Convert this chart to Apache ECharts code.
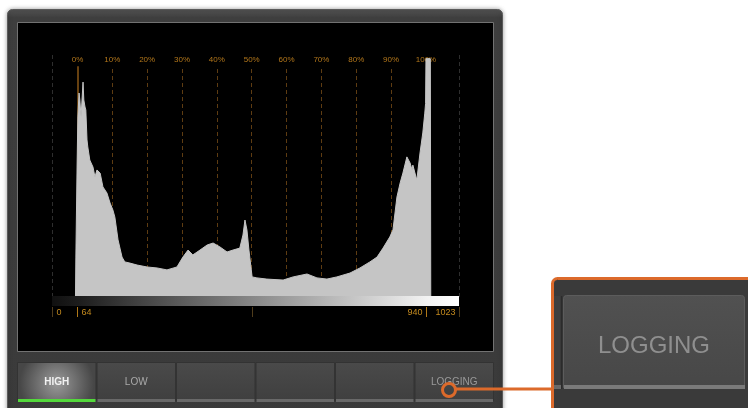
<!DOCTYPE html>
<html>
<head>
<meta charset="utf-8">
<title>Histogram</title>
<script src="https://cdn.jsdelivr.net/npm/echarts@6.0.0/dist/echarts.min.js"></script>
<style>
  html, body { margin: 0; padding: 0; background: #ffffff; }
  #main { width: 748px; height: 408px; }
</style>
</head>
<body>
<div id="main"></div>
<script>
// histogram: 10-bit code value -> relative count (top of display = 100)
var histCodes = [59, 60, 63, 65, 68, 70, 73, 75, 78, 80, 83, 85, 88, 90, 95, 103, 108, 113, 121, 128,
  138, 146, 153, 158, 166, 176, 183, 196, 214, 239, 264, 289, 314, 329, 342, 354, 372, 390, 405, 422,
  440, 455, 472, 480, 485, 490, 495, 503, 515, 540, 581, 606, 641, 666, 691, 716, 749, 774, 799, 817,
  832, 849, 857, 867, 875, 882, 892, 900, 905, 907, 917, 925, 932, 937, 939, 940, 951, 952];
var histCounts = [0, 16.5, 53.7, 74.4, 84.3, 81.4, 74.4, 74, 88.8, 81.4, 78.5, 77.3, 64.9, 62, 56.6, 53.7, 49.6, 52.5, 51.2, 45.5,
  43, 38.8, 36, 33, 23.6, 16.5, 14.5, 14, 13.2, 12.4, 12, 11.2, 12.4, 16.5, 19.4, 17.4, 19.4, 21.5, 22.3, 20.7,
  18.6, 19.4, 20.2, 25.6, 31.8, 27.7, 19.4, 8.3, 7.9, 7.4, 7, 8.3, 9.5, 7.9, 7.4, 8.3, 9.9, 12, 14.5, 16.5,
  20.2, 24.8, 27.7, 41.3, 47.1, 51.2, 57.9, 55.4, 52.5, 54.5, 48.3, 59.5, 67.8, 76, 80, 98.5, 98.5, 0];

var pctTicks = [0, 10, 20, 30, 40, 50, 60, 70, 80, 90, 100];
var codeMarks = [0, 64, 502, 940, 1023];
var codeLabels = ['0', '64', '', '940', '1023'];
var buttonNames = ['HIGH', 'LOW', '', '', '', 'LOGGING'];
var calloutText = 'LOGGING';

var blackCode = 64, whiteCode = 940;
var ORANGE = '#dc6a2b';
var FONT = '"Liberation Sans", Arial, sans-serif';

function pctToCode(p) { return blackCode + (whiteCode - blackCode) * p / 100; }

var histData = histCodes.map(function (c, i) { return [c, histCounts[i]]; });

var gridLines = pctTicks.map(function (p) {
  var c = pctToCode(p);
  return [
    {
      name: p + '%', coord: [c, 0],
      lineStyle: p === 0 ? { color: '#8a5716', type: 'solid', width: 1.5 } : { color: '#5e3c12', type: [4, 3], width: 1 }
    },
    { coord: [c, 95.4] }
  ];
});
gridLines.push({ xAxis: 0, lineStyle: { color: '#2e2e2e', type: [4, 3] }, label: { show: false } });
gridLines.push({ xAxis: 1023, lineStyle: { color: '#2e2e2e', type: [4, 3] }, label: { show: false } });

var chart = echarts.init(document.getElementById('main'));

chart.setOption({
  animation: false,
  backgroundColor: '#ffffff',
  grid: { left: 52, right: 289, top: 55, bottom: 111 },
  xAxis: {
    type: 'value', min: 0, max: 1023,
    axisLine: { show: false }, axisTick: { show: false }, axisLabel: { show: false }, splitLine: { show: false }
  },
  yAxis: {
    type: 'value', min: 0, max: 100,
    axisLine: { show: false }, axisTick: { show: false }, axisLabel: { show: false }, splitLine: { show: false }
  },
  series: [
    {
      type: 'line', data: [], z: 1, silent: true,
      markLine: {
        silent: true, symbol: ['none', 'none'], animation: false, z: 1,
        label: {
          show: true, position: 'end', distance: 2, formatter: '{b}',
          color: '#b3771b', fontSize: 8, fontFamily: FONT
        },
        data: gridLines
      }
    },
    {
      type: 'line', data: histData, z: 3, silent: true,
      showSymbol: false, symbol: 'none', smooth: false,
      lineStyle: { color: '#c5c5c5', width: 1 },
      areaStyle: { color: '#c5c5c5', opacity: 1 }
    }
  ]
});

// --- chrome of the scope panel, drawn with graphic elements ---
var px = function (c) { return chart.convertToPixel({ xAxisIndex: 0 }, c); };
var py = function (v) { return chart.convertToPixel({ yAxisIndex: 0 }, v); };
var x0 = px(0), x1 = px(1023), yb = py(0);

var back = [];
var front = [];

back.push({
  type: 'rect', z: -10, shape: { x: 7.5, y: 9.5, width: 495, height: 430, r: 5 },
  style: {
    fill: new echarts.graphic.LinearGradient(0, 0, 0, 1, [
      { offset: 0, color: '#555555' }, { offset: 0.02, color: '#3e3e3e' }, { offset: 1, color: '#3a3a3a' }
    ]),
    stroke: '#5a5a5a', lineWidth: 1, shadowBlur: 4, shadowColor: 'rgba(0,0,0,0.35)'
  }
});
back.push({
  type: 'rect', z: -9, shape: { x: 17.5, y: 22.5, width: 476, height: 329 },
  style: { fill: '#000000', stroke: '#727272', lineWidth: 1 }
});

// buttons
buttonNames.forEach(function (name, i) {
  var bx = 17 + i * 79.5;
  var fill = i === 0
    ? new echarts.graphic.RadialGradient(0.5, 0.55, 0.95, [
        { offset: 0, color: '#9a9a9a' }, { offset: 1, color: '#474747' }
      ])
    : new echarts.graphic.LinearGradient(0, 0, 0, 1, [
        { offset: 0, color: '#4a4a4a' }, { offset: 1, color: '#3f3f3f' }
      ]);
  back.push({
    type: 'rect', z: -8, shape: { x: bx + 0.5, y: 362.5, width: 78.5, height: 38 },
    style: { fill: fill, stroke: '#333333', lineWidth: 1 }
  });
  back.push({
    type: 'rect', z: -7, shape: { x: bx + 1, y: 399, width: 77.5, height: 3 },
    style: { fill: i === 0 ? '#53d93b' : '#696969' }
  });
  if (name) {
    back.push({
      type: 'text', z: -6, x: bx + 39.75, y: 382,
      style: {
        text: name, fill: i === 0 ? '#f2f2f2' : (i === 1 ? '#a9a9a9' : '#9a9a9a'),
        font: (i === 0 ? 'bold ' : '') + '10px ' + FONT,
        align: 'center', verticalAlign: 'middle', textAlign: 'center', textVerticalAlign: 'middle'
      }
    });
  }
});

// gray ramp under the histogram
back.push({
  type: 'rect', z: 5, shape: { x: x0, y: yb - 1, width: x1 - x0, height: 10 },
  style: {
    fill: new echarts.graphic.LinearGradient(0, 0, 1, 0, [
      { offset: 0, color: '#101010' },
      { offset: blackCode / 1023, color: '#1c1c1c' },
      { offset: whiteCode / 1023, color: '#f2f2f2' },
      { offset: 1, color: '#ffffff' }
    ])
  }
});

// code value ticks and labels
codeMarks.forEach(function (c, i) {
  var x = Math.round(px(c)) + 0.5;
  var bright = (c === blackCode || c === whiteCode);
  back.push({
    type: 'line', z: 5, shape: { x1: x, y1: yb + 10, x2: x, y2: yb + 20 },
    style: { stroke: bright ? '#b07818' : '#4f3c1c', lineWidth: 1 }
  });
  if (codeLabels[i]) {
    var leftSide = (c === 0 || c === blackCode);
    back.push({
      type: 'text', z: 5, x: leftSide ? x + 4 : x - 4, y: yb + 16,
      style: {
        text: codeLabels[i], fill: '#c48a1e', font: '9px ' + FONT,
        align: leftSide ? 'left' : 'right', textAlign: leftSide ? 'left' : 'right',
        verticalAlign: 'middle', textVerticalAlign: 'middle'
      }
    });
  }
});

// callout
front.push({
  type: 'rect', z: 20, shape: { x: 552.5, y: 278.5, width: 220, height: 150, r: 5 },
  style: { fill: '#3a3a3a' }
});
front.push({
  type: 'rect', z: 21, shape: { x: 554, y: 296, width: 8, height: 92 },
  style: { fill: '#3f3f3f' }
});
front.push({
  type: 'rect', z: 21, shape: { x: 563.5, y: 295.5, width: 181, height: 92, r: [3, 3, 0, 0] },
  style: {
    fill: new echarts.graphic.LinearGradient(0, 0, 0, 1, [
      { offset: 0, color: '#515151' }, { offset: 1, color: '#474747' }
    ]),
    stroke: '#5c5c5c', lineWidth: 1
  }
});
front.push({
  type: 'line', z: 22, shape: { x1: 561.5, y1: 296, x2: 561.5, y2: 389 },
  style: { stroke: '#2b2b2b', lineWidth: 1.5 }
});
front.push({
  type: 'rect', z: 22, shape: { x: 554, y: 385, width: 7, height: 4 },
  style: { fill: '#6a6a6a' }
});
front.push({
  type: 'rect', z: 22, shape: { x: 564, y: 385, width: 181, height: 4 },
  style: { fill: '#7a7a7a' }
});
front.push({
  type: 'text', z: 22, x: 654, y: 346,
  style: {
    text: calloutText, fill: '#8f8f8f', font: '24px ' + FONT,
    align: 'center', verticalAlign: 'middle', textAlign: 'center', textVerticalAlign: 'middle'
  }
});
front.push({
  type: 'rect', z: 23, shape: { x: 552.5, y: 278.5, width: 220, height: 150, r: 5 },
  style: { fill: null, stroke: ORANGE, lineWidth: 3 }
});
front.push({
  type: 'line', z: 23, shape: { x1: 455, y1: 389, x2: 552, y2: 389 },
  style: { stroke: ORANGE, lineWidth: 3 }
});
front.push({
  type: 'circle', z: 23, shape: { cx: 449, cy: 390, r: 6.5 },
  style: { fill: null, stroke: ORANGE, lineWidth: 3 }
});

chart.setOption({ graphic: { elements: back.concat(front) } });
</script>
</body>
</html>
